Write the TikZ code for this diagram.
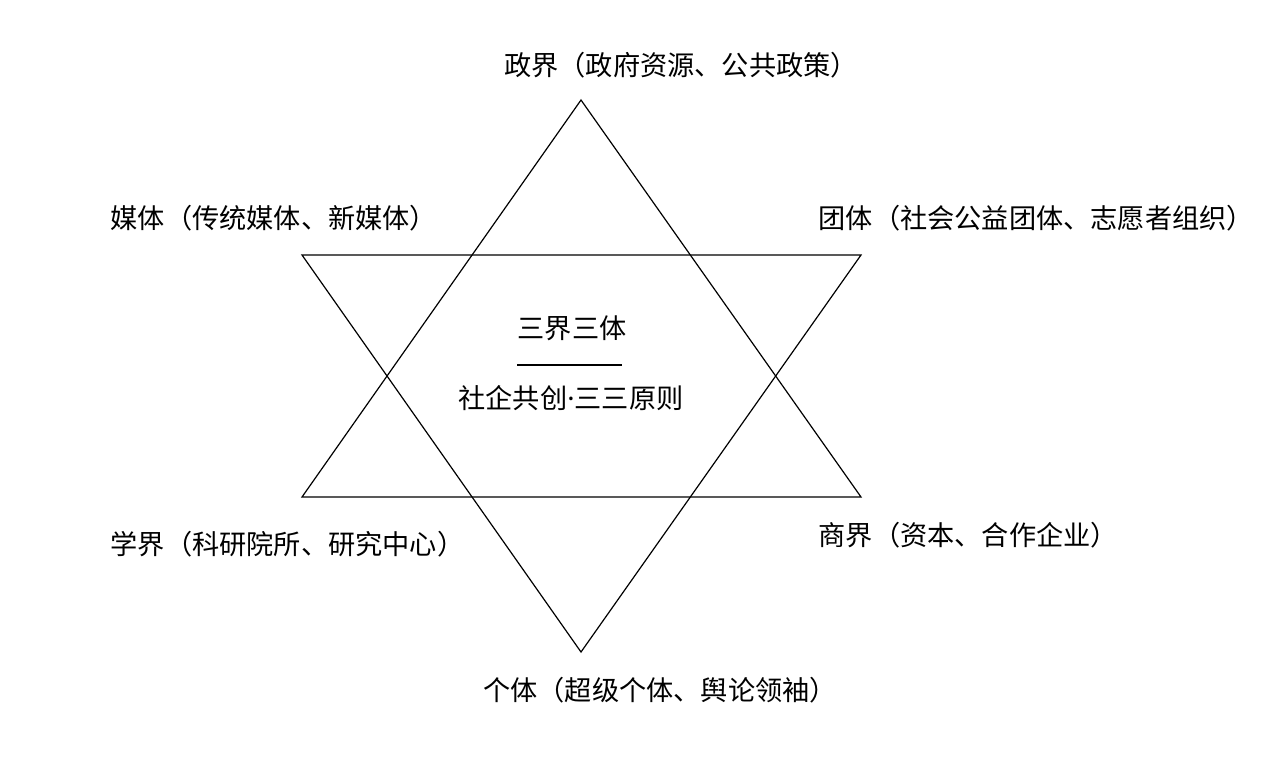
\documentclass[tikz,border=0pt]{standalone}
\usepackage{fontspec}
\setmainfont{Noto Sans CJK SC}
\newfontfamily\latinfont{Noto Sans}
\usetikzlibrary{positioning}

\begin{document}
\begin{tikzpicture}[x=0.5pt,y=-0.5pt,semithick,
                    label/.style={inner sep=0pt,font=\fontsize{13.6}{15}\selectfont},
                    core/.style={inner sep=0pt,font=\fontsize{13.6}{16}\selectfont}]
    \useasboundingbox (0,0) rectangle (1280,783);
    % star vertices
    \coordinate (up)   at (581,100);
    \coordinate (upl)  at (302,497);
    \coordinate (upr)  at (861,497);
    \coordinate (dn)   at (581,652);
    \coordinate (dnl)  at (302,255);
    \coordinate (dnr)  at (861,255);

    \draw (up) -- (upr) -- (upl) -- cycle;
    \draw (dn) -- (dnl) -- (dnr) -- cycle;

    % outer labels
    \node[label] (zheng) at (681,65) {政界（政府资源、公共政策）};
    \node[label,anchor=west] (meiti) at (110,218) {媒体（传统媒体、新媒体）};
    \node[label,anchor=west] (tuanti) at (818,218) {团体（社会公益团体、志愿者组织）};
    \node[label,anchor=west] (xue) at (110,544) {学界（科研院所、研究中心）};
    \node[label,anchor=west] (shang) at (818,535) {商界（资本、合作企业）};
    \node[label] (geti) at (660,690) {个体（超级个体、舆论领袖）};

    % centre
    \node[core] (title) at (572,328) {三界三体};
    \node[core] (rule)  at (571,398) {社企共创{\latinfont·}三三原则};
    \coordinate (bl) at (517,365);
    \coordinate (br) at (622,365);
    \draw[line width=1.2pt] (bl) -- (br);
\end{tikzpicture}
\end{document}
